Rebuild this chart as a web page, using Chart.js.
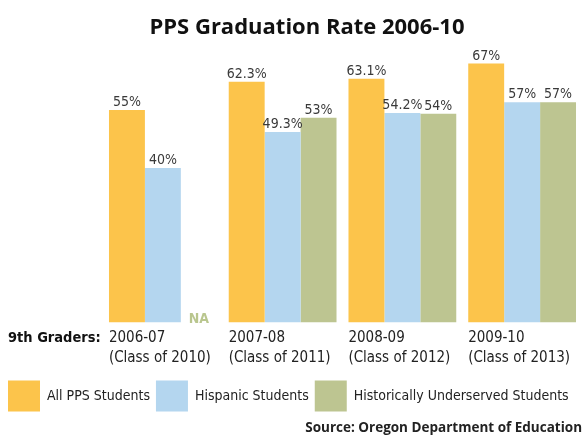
<!DOCTYPE html>
<html lang="en">
<head>
<meta charset="UTF-8">
<title>PPS Graduation Rate 2006-10</title>
<script src="https://cdn.jsdelivr.net/npm/chart.js"></script>
<style>
html,body{margin:0;padding:0;background:#fff}
.chart-box{width:584px;height:435px}
</style>
</head>
<body>
<div class="chart-box"><canvas id="gradChart"></canvas></div>

<script>
/* --- Data --- */
const categories = [
  ['2006-07', '(Class of 2010)'],
  ['2007-08', '(Class of 2011)'],
  ['2008-09', '(Class of 2012)'],
  ['2009-10', '(Class of 2013)']
];
const seriesNames = ['All PPS Students', 'Hispanic Students', 'Historically Underserved Students'];
const allPPS      = [55, 62.3, 63.1, 67];
const hispanic    = [40, 49.3, 54.2, 57];
const underserved = [null, 53, 54, 57];

const NARROW = "'DejaVu Sans', sans-serif";   // used with the condensed stretch
const HEAD   = "'Open Sans', 'Liberation Sans', sans-serif";
const colors = ['#fcc44b', '#b4d6ef', '#bdc591'];

/* --- Title, value labels, "NA" and "9th Graders:" --- */
const labelsPlugin = {
  id: 'labels',
  afterDatasetsDraw(chart){
    const ctx = chart.ctx;
    ctx.save();
    ctx.font = 'condensed 14px ' + NARROW;
    ctx.fillStyle = '#3a3a3a';
    ctx.textAlign = 'center';
    ctx.textBaseline = 'alphabetic';
    chart.data.datasets.forEach((ds, di) => {
      const meta = chart.getDatasetMeta(di);
      meta.data.forEach((el, i) => {
        const v = ds.data[i];
        if (v === null) {
          const x = isNaN(el.x) ? chart.scales.x.getPixelForValue(i) + 36 : el.x;
          ctx.save();
          ctx.font = 'condensed bold 14px ' + NARROW;
          ctx.fillStyle = '#b9c68e';
          ctx.fillText('NA', x, chart.chartArea.bottom + 1);
          ctx.restore();
          return;
        }
        ctx.fillText(v + '%', el.x, el.y - 4);
      });
    });
    ctx.font = 'condensed bold 14.5px ' + NARROW;
    ctx.fillStyle = '#111';
    ctx.textAlign = 'left';
    ctx.textBaseline = 'middle';
    ctx.fillText('9th Graders:', 8, chart.scales.x.top + 16);

    ctx.font = 'bold 22px ' + HEAD;
    ctx.textAlign = 'center';
    ctx.fillText('PPS Graduation Rate 2006-10', 307, 28);
    ctx.restore();
  }
};

new Chart(document.getElementById('gradChart'), {
  type: 'bar',
  data: {
    labels: categories,
    datasets: [
      {label: seriesNames[0], data: allPPS,      backgroundColor: colors[0]},
      {label: seriesNames[1], data: hispanic,    backgroundColor: colors[1]},
      {label: seriesNames[2], data: underserved, backgroundColor: colors[2]}
    ]
  },
  options: {
    responsive: true,
    maintainAspectRatio: false,
    animation: false,
    layout: {padding: {left: 2, right: 2, top: 52, bottom: 0}},
    datasets: {bar: {categoryPercentage: 0.9, barPercentage: 1.0, borderWidth: 0}},
    scales: {
      x: {
        grid: {display: false, drawTicks: false},
        border: {display: false},
        ticks: {
          align: 'start', labelOffset: -54, padding: 6, maxRotation: 0, autoSkip: false,
          color: '#222', font: {family: NARROW, weight: 'condensed', size: 15, lineHeight: 1.3334}
        },
        afterFit(scale){ scale.paddingLeft = 0; scale.paddingRight = 0; }
      },
      y: {
        min: 0, max: 70,
        grid: {display: false, drawTicks: false},
        border: {display: false},
        ticks: {display: false},
        afterFit(scale){ scale.width = 101; }
      }
    },
    plugins: {
      title: {display: false},
      subtitle: {
        display: true,
        position: 'bottom',
        align: 'end',
        text: 'Source: Oregon Department of Education',
        color: '#222',
        font: {family: HEAD, size: 13.5, weight: 'bold', lineHeight: 1},
        padding: 0
      },
      legend: {
        position: 'bottom',
        align: 'start',
        labels: {
          boxWidth: 32, boxHeight: 31, padding: 6,
          color: '#222', font: {family: NARROW, weight: 'condensed', size: 14}
        }
      },
      tooltip: {enabled: false}
    }
  },
  plugins: [labelsPlugin]
});
</script>
</body>
</html>
